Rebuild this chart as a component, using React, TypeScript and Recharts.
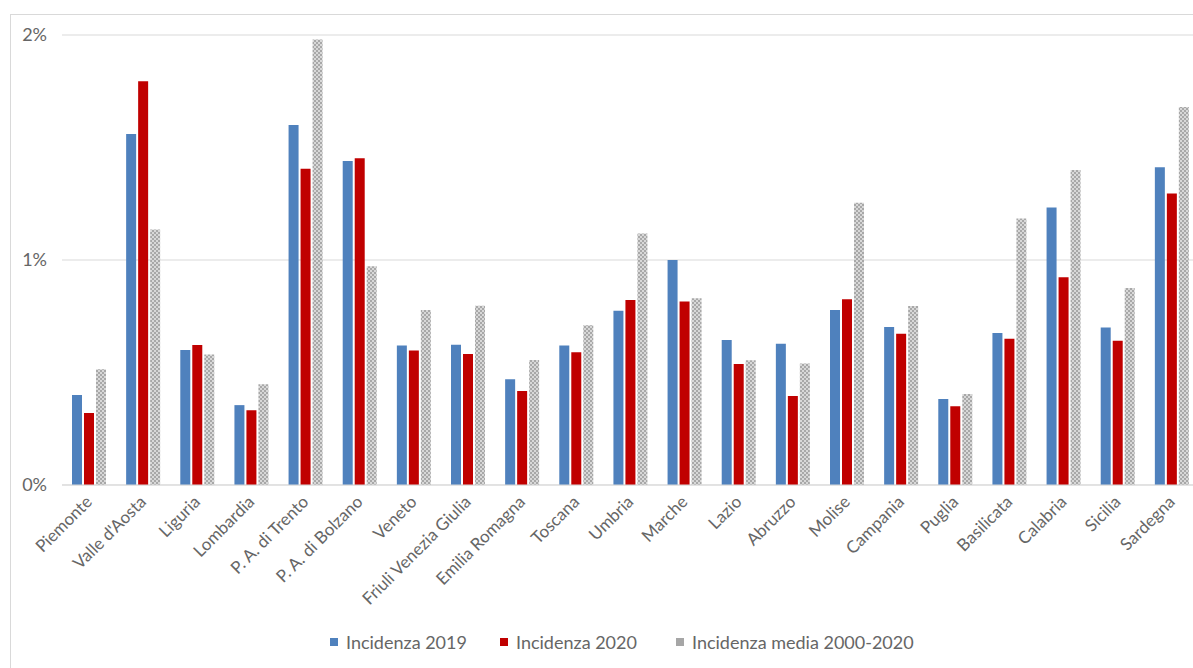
import React from 'react';
import { BarChart, Bar, XAxis, YAxis, CartesianGrid } from 'recharts';

const categories = ['Piemonte', "Valle d'Aosta", 'Liguria', 'Lombardia', 'P. A. di Trento', 'P. A. di Bolzano', 'Veneto', 'Friuli Venezia Giulia', 'Emilia Romagna', 'Toscana', 'Umbria', 'Marche', 'Lazio', 'Abruzzo', 'Molise', 'Campania', 'Puglia', 'Basilicata', 'Calabria', 'Sicilia', 'Sardegna'];
const inc2019 = [0.40, 1.56, 0.60, 0.355, 1.60, 1.44, 0.62, 0.623, 0.47, 0.62, 0.775, 1.00, 0.645, 0.628, 0.778, 0.702, 0.382, 0.676, 1.233, 0.70, 1.412];
const inc2020 = [0.32, 1.794, 0.622, 0.332, 1.406, 1.452, 0.598, 0.582, 0.418, 0.59, 0.822, 0.816, 0.538, 0.396, 0.826, 0.672, 0.35, 0.65, 0.923, 0.641, 1.296];
const media = [0.515, 1.136, 0.58, 0.448, 1.98, 0.972, 0.778, 0.797, 0.556, 0.71, 1.118, 0.83, 0.555, 0.54, 1.255, 0.796, 0.404, 1.184, 1.40, 0.876, 1.68];
const yTicks = [0, 1, 2];
const seriesNames = ['Incidenza 2019', 'Incidenza 2020', 'Incidenza media 2000-2020'];

const data = categories.map((c, i) => ({ name: c, a: inc2019[i], b: inc2020[i], c: media[i] }));

const FONT = 'Lato, "Open Sans", sans-serif';
const TEXT = '#666666';

const XTick = (props: any) => {
  const { x, payload } = props;
  return (
    <g transform={`translate(${x + 4},${485 + 18})`}>
      <text x={0} y={0} textAnchor="end" transform="rotate(-45)" fill={TEXT} fontSize={17} fontFamily={FONT}>
        {payload.value}
      </text>
    </g>
  );
};

const YTick = (props: any) => {
  const { y, payload } = props;
  return (
    <text x={47} y={y} dy={6} textAnchor="end" fill={TEXT} fontSize={18} fontFamily={FONT}>
      {`${payload.value}%`}
    </text>
  );
};

const legendX = [330, 500, 676];
const legendColors = ['#4f81bd', '#c00000', '#a6a6a6'];

export default function App() {
  return (
    <div style={{ position: 'absolute', left: 0, top: 0, width: 1193, height: 668, overflow: 'hidden', background: '#fff' }}>
      <div style={{ position: 'absolute', left: 10, top: 14, width: 1400, height: 900, border: '1px solid #d9d9d9' }} />
      <div style={{ position: 'absolute', left: 0, top: 0 }}>
        <BarChart
          width={1210}
          height={668}
          data={data}
          margin={{ top: 35, right: 11, left: 0, bottom: 33 }}
          barSize={10}
          barGap={2}
        >
          <defs>
            <pattern id="chk" width="4" height="4" patternUnits="userSpaceOnUse">
              <rect width="4" height="4" fill="#a8a8a8" />
              <rect x="0" y="0" width="2" height="2" fill="#d8d8d8" />
              <rect x="2" y="2" width="2" height="2" fill="#d8d8d8" />
            </pattern>
          </defs>
          <CartesianGrid vertical={false} stroke="#d9d9d9" />
          <XAxis dataKey="name" interval={0} tickLine={false} axisLine={{ stroke: '#d9d9d9' }} height={150} tick={<XTick />} />
          <YAxis domain={[0, 2]} ticks={yTicks} width={62} axisLine={false} tickLine={false} tick={<YTick />} />
          <Bar dataKey="a" name={seriesNames[0]} fill="#4f81bd" isAnimationActive={false} />
          <Bar dataKey="b" name={seriesNames[1]} fill="#c00000" isAnimationActive={false} />
          <Bar dataKey="c" name={seriesNames[2]} fill="url(#chk)" isAnimationActive={false} />
        </BarChart>
      </div>
      {seriesNames.map((n, i) => (
        <div key={n} style={{ position: 'absolute', left: legendX[i], top: 630, display: 'flex', alignItems: 'center', height: 24 }}>
          <div style={{ width: 8, height: 8, background: legendColors[i], marginRight: 8 }} />
          <span style={{ fontFamily: FONT, fontSize: 18, color: TEXT, whiteSpace: 'nowrap' }}>{n}</span>
        </div>
      ))}
    </div>
  );
}
